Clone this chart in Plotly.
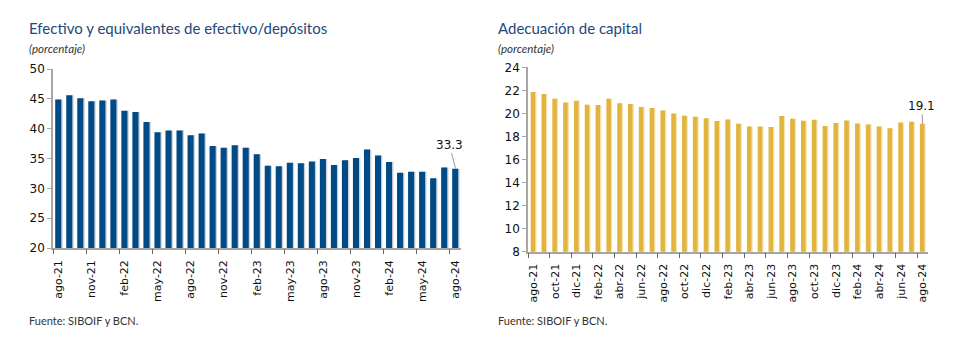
import plotly.graph_objects as go

months = ["ago-21","sep-21","oct-21","nov-21","dic-21","ene-22","feb-22","mar-22","abr-22","may-22","jun-22","jul-22",
          "ago-22","sep-22","oct-22","nov-22","dic-22","ene-23","feb-23","mar-23","abr-23","may-23","jun-23","jul-23",
          "ago-23","sep-23","oct-23","nov-23","dic-23","ene-24","feb-24","mar-24","abr-24","may-24","jun-24","jul-24","ago-24"]

efectivo = [44.9, 45.6, 45.1, 44.6, 44.7, 44.9, 43.0, 42.8, 41.1, 39.4, 39.7, 39.7,
            38.9, 39.2, 37.1, 36.8, 37.2, 36.8, 35.7, 33.8, 33.7, 34.3, 34.2, 34.5,
            34.9, 33.9, 34.7, 35.1, 36.5, 35.5, 34.4, 32.6, 32.8, 32.8, 31.7, 33.5, 33.3]

adecuacion = [21.85, 21.68, 21.27, 20.95, 21.1, 20.75, 20.72, 21.27, 20.87, 20.81, 20.55, 20.46,
              20.26, 20.0, 19.8, 19.71, 19.57, 19.33, 19.48, 19.1, 18.87, 18.87, 18.81, 19.77,
              19.54, 19.36, 19.45, 18.9, 19.16, 19.39, 19.13, 19.04, 18.87, 18.72, 19.22, 19.27, 19.1]

left_step = 3
right_step = 2

title_left = "Efectivo y equivalentes de efectivo/depósitos"
title_right = "Adecuación de capital"
unit = "(porcentaje)"
source = "Fuente: SIBOIF y BCN."

BLUE = "#004A86"
GOLD = "#E1B43E"
TITLE_C = "#24487A"
AX_C = "#A6A6A6"
FONT = "DejaVu Sans"

n = len(months)
xs = list(range(n))

fig = go.Figure()

# left chart
fig.add_trace(go.Bar(x=xs, y=efectivo, width=0.55, offset=-0.3 + 0.12, marker=dict(color="#C9D0DA", line_width=0),
                     xaxis="x", yaxis="y", hoverinfo="skip", showlegend=False))
fig.add_trace(go.Bar(x=xs, y=efectivo, width=0.55, offset=-0.3, marker=dict(color=BLUE, line_width=0),
                     xaxis="x", yaxis="y", showlegend=False))
fig.add_trace(go.Scatter(x=[-0.5], y=[None], xaxis="x3", yaxis="y", showlegend=False, hoverinfo="skip"))

# right chart
fig.add_trace(go.Bar(x=xs, y=adecuacion, width=0.42, offset=-0.25 + 0.12, marker=dict(color="#F4E2B0", line_width=0),
                     xaxis="x2", yaxis="y2", hoverinfo="skip", showlegend=False))
fig.add_trace(go.Bar(x=xs, y=adecuacion, width=0.42, offset=-0.25, marker=dict(color=GOLD, line_width=0),
                     xaxis="x2", yaxis="y2", showlegend=False))
fig.add_trace(go.Scatter(x=[-0.5], y=[None], xaxis="x4", yaxis="y2", showlegend=False, hoverinfo="skip"))

W, H = 978, 363
ldom = [53/W, 461/W]
rdom = [528/W, 928/W]
lyd = [(H-248)/H, (H-69)/H]
ryd = [(H-251.7)/H, (H-67.3)/H]

tickfont = dict(family=FONT, size=11, color="#111111")
yfont = dict(family=FONT, size=12, color="#111111")

def lab_axis(dom, anchor, step):
    return dict(domain=dom, anchor=anchor, range=[-0.5, n - 0.5], tickmode="array",
                tickvals=xs[::step], ticktext=months[::step], tickangle=-90, ticks="",
                showline=True, linecolor=AX_C, linewidth=1.5, showgrid=False, zeroline=False,
                tickfont=tickfont, ticklabelstandoff=6, fixedrange=True, automargin=False)

def tick_axis(dom, anchor, over, step):
    return dict(domain=dom, anchor=anchor, overlaying=over, range=[-0.5, n - 0.5], tickmode="array",
                tickvals=[i - 0.5 for i in xs[::step]], ticks="outside", ticklen=5, tickwidth=1,
                tickcolor="#666666", showticklabels=False, showline=False, showgrid=False, zeroline=False,
                automargin=False)

fig.update_layout(
    template="none",
    width=W, height=H, margin=dict(l=0, r=0, t=0, b=0, pad=0, autoexpand=False),
    paper_bgcolor="white", plot_bgcolor="white", barmode="overlay",
    xaxis=lab_axis(ldom, "y", left_step),
    xaxis3=tick_axis(ldom, "y", "x", left_step),
    xaxis2=lab_axis(rdom, "y2", right_step),
    xaxis4=tick_axis(rdom, "y2", "x2", right_step),
    yaxis=dict(domain=lyd, anchor="x", range=[20, 50], dtick=5, tick0=20, ticks="outside", ticklen=4,
               tickcolor=AX_C, showline=True, linecolor=AX_C, linewidth=1.5, showgrid=False, zeroline=False,
               tickfont=yfont, automargin=False),
    yaxis2=dict(domain=ryd, anchor="x2", range=[8, 24], dtick=2, tick0=8, ticks="outside", ticklen=4,
                tickcolor=AX_C, showline=True, linecolor=AX_C, linewidth=1.5, showgrid=False, zeroline=False,
                tickfont=yfont, automargin=False),
)

ann = []
ann.append(dict(x=n-1, y=efectivo[-1], xref="x", yref="y", text=f"{efectivo[-1]:.1f}", showarrow=True,
                arrowhead=0, arrowwidth=1, arrowcolor="#9a9a9a", ax=-6, ay=-24,
                font=dict(family=FONT, size=12, color="#111111")))
ann.append(dict(x=n-1, y=adecuacion[-1], xref="x2", yref="y2", text=f"{adecuacion[-1]:.1f}", showarrow=True,
                arrowhead=0, arrowwidth=1, arrowcolor="#9a9a9a", ax=-1, ay=-18,
                font=dict(family=FONT, size=12, color="#111111")))

for x0, t in [(27, title_left), (496, title_right)]:
    ann.append(dict(x=x0/W, y=1 - 28/H, xref="paper", yref="paper", xanchor="left", yanchor="middle",
                    text=t, showarrow=False, font=dict(family="Lato", size=15, color=TITLE_C)))
    ann.append(dict(x=x0/W, y=1 - 48/H, xref="paper", yref="paper", xanchor="left", yanchor="middle",
                    text=f"<i>{unit}</i>", showarrow=False, font=dict(family="Lato", size=11.5, color="#333333")))
    ann.append(dict(x=x0/W, y=1 - 320/H, xref="paper", yref="paper", xanchor="left", yanchor="middle",
                    text=source, showarrow=False, font=dict(family="Lato", size=11, color="#333333")))

fig.update_layout(annotations=ann)
fig.write_html("out.html", config={"displayModeBar": False},
               post_script="document.body.style.margin='0';")
